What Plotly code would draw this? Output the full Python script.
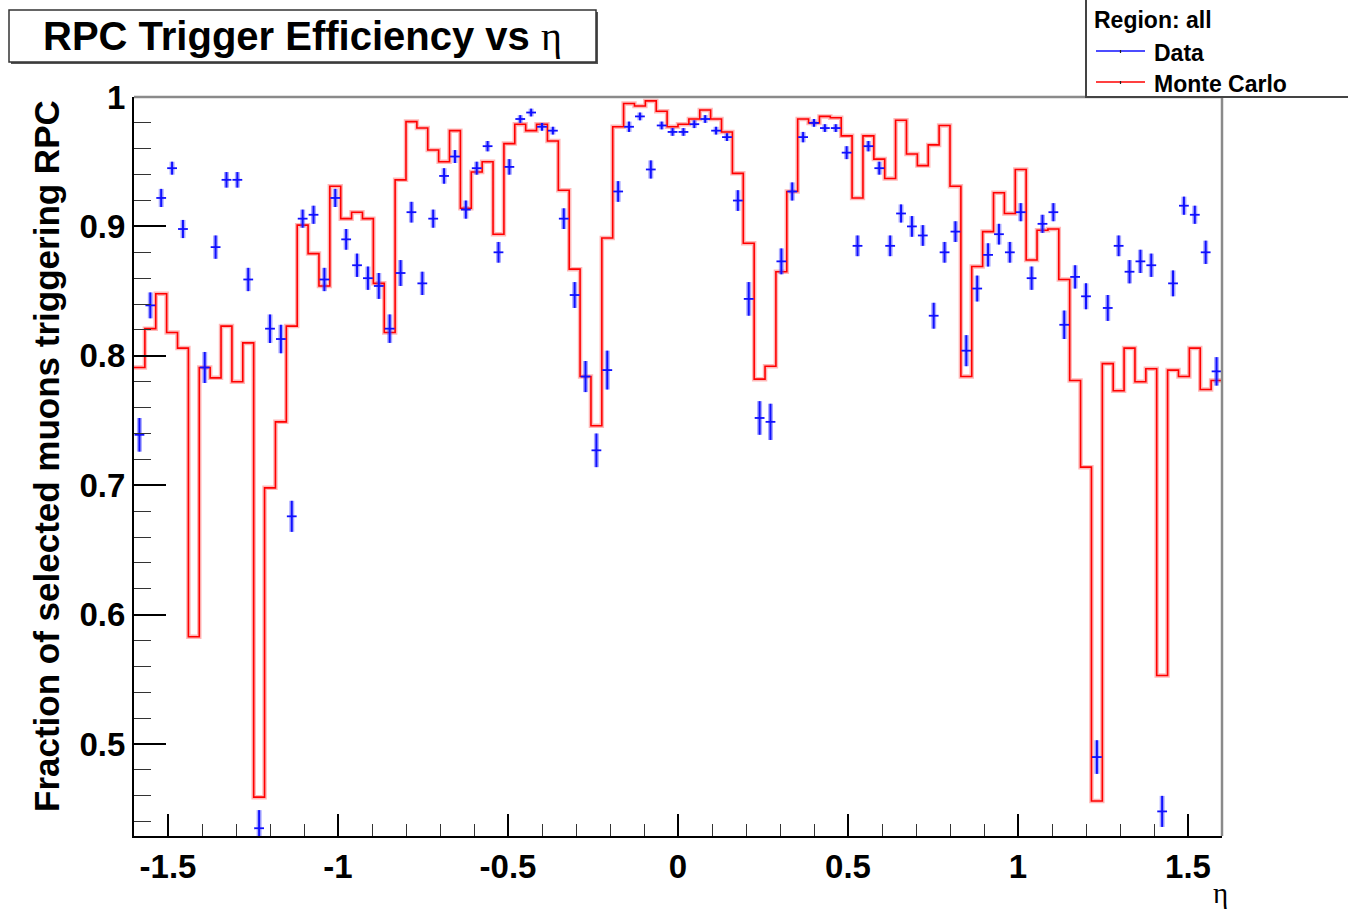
import numpy as np
import plotly.graph_objects as go

# ---------------- data ----------------
n_bins = 100
eta_min, eta_max = -1.6, 1.6

data_eff = [
    0.739, 0.839, 0.922, 0.945, 0.898, None, 0.791, 0.884, 0.936, 0.936,
    0.859, 0.435, 0.821, 0.813, 0.676, 0.906, 0.909, 0.859, 0.922, 0.890,
    0.870, 0.860, 0.854, 0.821, 0.864, 0.911, 0.856, 0.906, 0.939, 0.954,
    0.913, 0.945, 0.962, 0.880, 0.946, 0.983, 0.988, 0.977, 0.974, 0.906,
    0.847, 0.784, 0.727, 0.789, 0.927, 0.977, 0.985, 0.944, 0.978, 0.973,
    0.973, 0.979, 0.983, 0.974, 0.969, 0.920, 0.844, 0.752, 0.749, 0.873,
    0.927, 0.969, 0.980, 0.976, 0.976, 0.957, 0.885, 0.962, 0.945, 0.885,
    0.910, 0.900, 0.893, 0.831, 0.880, 0.896, 0.804, 0.852, 0.878, 0.894,
    0.880, 0.911, 0.860, 0.902, 0.911, 0.824, 0.861, 0.846, 0.490, 0.837,
    0.885, 0.865, 0.873, 0.870, 0.448, 0.856, 0.916, 0.909, 0.880, 0.788,
]

data_err = [
    0.013, 0.010, 0.007, 0.005, 0.007, None, 0.012, 0.009, 0.006, 0.006,
    0.009, 0.014, 0.011, 0.011, 0.012, 0.007, 0.007, 0.009, 0.007, 0.008,
    0.009, 0.009, 0.010, 0.011, 0.010, 0.008, 0.009, 0.007, 0.006, 0.005,
    0.007, 0.005, 0.004, 0.008, 0.006, 0.003, 0.003, 0.003, 0.003, 0.008,
    0.010, 0.012, 0.013, 0.015, 0.008, 0.004, 0.003, 0.007, 0.003, 0.003,
    0.003, 0.003, 0.003, 0.003, 0.003, 0.008, 0.013, 0.013, 0.014, 0.010,
    0.007, 0.004, 0.003, 0.003, 0.003, 0.005, 0.008, 0.004, 0.005, 0.008,
    0.007, 0.008, 0.008, 0.010, 0.008, 0.008, 0.012, 0.010, 0.009, 0.008,
    0.008, 0.007, 0.009, 0.007, 0.007, 0.011, 0.009, 0.010, 0.013, 0.010,
    0.008, 0.009, 0.009, 0.009, 0.012, 0.010, 0.007, 0.007, 0.009, 0.011,
]

mc_eff = [
    0.791, 0.821, 0.848, 0.818, 0.806, 0.583, 0.791, 0.783, 0.823, 0.780,
    0.810, 0.459, 0.698, 0.749, 0.823, 0.901, 0.879, 0.854, 0.931, 0.906,
    0.911, 0.906, 0.856, 0.818, 0.936, 0.981, 0.976, 0.959, 0.950, 0.974,
    0.914, 0.942, 0.950, 0.894, 0.964, 0.979, 0.974, 0.979, 0.966, 0.928,
    0.867, 0.784, 0.746, 0.891, 0.977, 0.995, 0.993, 0.997, 0.989, 0.977,
    0.979, 0.983, 0.990, 0.983, 0.973, 0.941, 0.887, 0.782, 0.792, 0.865,
    0.927, 0.983, 0.980, 0.985, 0.984, 0.970, 0.922, 0.970, 0.952, 0.937,
    0.982, 0.956, 0.947, 0.963, 0.978, 0.931, 0.784, 0.869, 0.896, 0.926,
    0.910, 0.944, 0.874, 0.897, 0.898, 0.859, 0.781, 0.714, 0.456, 0.794,
    0.773, 0.806, 0.780, 0.790, 0.553, 0.789, 0.784, 0.806, 0.774, 0.781,
]

x_tick_vals = [-1.5, -1.0, -0.5, 0.0, 0.5, 1.0, 1.5]
x_tick_text = ["-1.5", "-1", "-0.5", "0", "0.5", "1", "1.5"]
y_tick_vals = [0.5, 0.6, 0.7, 0.8, 0.9, 1.0]
y_tick_text = ["0.5", "0.6", "0.7", "0.8", "0.9", "1"]

title_text = "RPC Trigger Efficiency vs"
ytitle_text = "Fraction of selected muons triggering RPC"
legend_header = "Region: all"
legend_labels = ["Data", "Monte Carlo"]

# ---------------- geometry helpers ----------------
W, H = 1348, 911
ML, MR, MT, MB = 134, 126, 97, 75
PW, PH = W - ML - MR, H - MT - MB


def px(xp):
    return (xp - ML) / PW


def py(yp):
    return (H - MB - yp) / PH


edges = np.linspace(eta_min, eta_max, n_bins + 1)
centers = 0.5 * (edges[:-1] + edges[1:])
half_w = 0.5 * (edges[1] - edges[0])

BLUE = "#1010ff"
RED = "#ff0000"
FONT = "Liberation Sans"

fig = go.Figure()

# MC histogram (step), halo + core
mc_y = list(mc_eff) + [mc_eff[-1]]
fig.add_trace(go.Scatter(x=edges, y=mc_y, mode="lines", line_shape="hv",
                         line=dict(color="rgba(255,0,0,0.28)", width=4.5),
                         hoverinfo="skip"))
fig.add_trace(go.Scatter(x=edges, y=mc_y, mode="lines", line_shape="hv",
                         line=dict(color=RED, width=1.6), name="Monte Carlo"))

# Data points: halo for vertical error bars
fig.add_trace(go.Scatter(x=centers, y=data_eff, mode="markers",
                         marker=dict(size=1, color="rgba(0,0,0,0)"),
                         error_y=dict(type="data", array=data_err, color="rgba(70,70,255,0.45)",
                                      thickness=5, width=0),
                         hoverinfo="skip"))
fig.add_trace(go.Scatter(x=centers, y=data_eff, mode="markers",
                         marker=dict(size=2, color=BLUE),
                         error_y=dict(type="data", array=data_err, color=BLUE,
                                      thickness=2, width=0),
                         error_x=dict(type="constant", value=half_w * 0.9, color=BLUE,
                                      thickness=1.8, width=0),
                         name="Data"))

tickfont = dict(family=FONT, size=33, color="black", weight="bold")

fig.update_xaxes(range=[eta_min, eta_max], showgrid=False, zeroline=False,
                 showline=True, linecolor="black", linewidth=2, mirror=False,
                 ticks="inside", ticklen=22, tickwidth=1.5, tickcolor="black",
                 tickmode="array", tickvals=x_tick_vals, ticktext=x_tick_text,
                 tickfont=tickfont,
                 minor=dict(ticks="inside", ticklen=12, tickwidth=1.2, tickcolor="#333",
                            dtick=0.1, tick0=0, showgrid=False))
fig.update_yaxes(range=[0.429, 1.0], showgrid=False, zeroline=False,
                 showline=True, linecolor="black", linewidth=2, mirror=False,
                 ticks="inside", ticklen=32, tickwidth=1.5, tickcolor="black",
                 tickmode="array", tickvals=y_tick_vals, ticktext=y_tick_text,
                 tickfont=tickfont,
                 minor=dict(ticks="inside", ticklen=17, tickwidth=1.2, tickcolor="#333",
                            dtick=0.02, tick0=0, showgrid=False))

shapes = []
# frame top and right edges (grey)
shapes.append(dict(type="line", xref="paper", yref="paper", x0=0, x1=1, y0=1, y1=1,
                   line=dict(color="#8a8a8a", width=2.5)))
shapes.append(dict(type="line", xref="paper", yref="paper", x0=1, x1=1, y0=0, y1=1,
                   line=dict(color="#8a8a8a", width=2.5)))
# title box with shadow
shapes.append(dict(type="rect", xref="paper", yref="paper",
                   x0=px(11), x1=px(598), y0=py(64), y1=py(12),
                   line=dict(width=0), fillcolor="#555555"))
shapes.append(dict(type="rect", xref="paper", yref="paper",
                   x0=px(9), x1=px(596), y0=py(62), y1=py(10),
                   line=dict(color="#333333", width=1.5), fillcolor="white"))
# legend box
shapes.append(dict(type="rect", xref="paper", yref="paper",
                   x0=px(1086), x1=px(1365), y0=py(97), y1=py(-10),
                   line=dict(color="#444444", width=2), fillcolor="white"))
# legend lines
shapes.append(dict(type="line", xref="paper", yref="paper", x0=px(1096), x1=px(1145),
                   y0=py(51), y1=py(51), line=dict(color=BLUE, width=1.6)))
shapes.append(dict(type="line", xref="paper", yref="paper", x0=px(1096), x1=px(1145),
                   y0=py(82), y1=py(82), line=dict(color=RED, width=1.6)))
shapes.append(dict(type="line", xref="paper", yref="paper", x0=px(1120.5), x1=px(1120.5),
                   y0=py(50), y1=py(53), line=dict(color="#222", width=1.2)))
shapes.append(dict(type="line", xref="paper", yref="paper", x0=px(1120.5), x1=px(1120.5),
                   y0=py(81), y1=py(84), line=dict(color="#222", width=1.2)))

annotations = []
annotations.append(dict(xref="paper", yref="paper", x=px(302), y=py(36),
                        xanchor="center", yanchor="middle", showarrow=False,
                        text="<b>" + title_text + "</b> <span style='font-family:Liberation Serif'>η</span>",
                        font=dict(family=FONT, size=40, color="black")))
annotations.append(dict(xref="paper", yref="paper", x=px(46), y=py(456),
                        xanchor="center", yanchor="middle", showarrow=False, textangle=-90,
                        text="<b>" + ytitle_text + "</b>",
                        font=dict(family=FONT, size=35, color="black")))
annotations.append(dict(xref="paper", yref="paper", x=px(1220), y=py(893),
                        xanchor="center", yanchor="middle", showarrow=False,
                        text="η", font=dict(family="Liberation Serif", size=29, color="black")))
annotations.append(dict(xref="paper", yref="paper", x=px(1092), y=py(20),
                        xanchor="left", yanchor="middle", showarrow=False,
                        text="<b>" + legend_header + "</b>",
                        font=dict(family=FONT, size=23, color="black")))
annotations.append(dict(xref="paper", yref="paper", x=px(1152), y=py(53),
                        xanchor="left", yanchor="middle", showarrow=False,
                        text="<b>" + legend_labels[0] + "</b>",
                        font=dict(family=FONT, size=23, color="black")))
annotations.append(dict(xref="paper", yref="paper", x=px(1152), y=py(84),
                        xanchor="left", yanchor="middle", showarrow=False,
                        text="<b>" + legend_labels[1] + "</b>",
                        font=dict(family=FONT, size=23, color="black")))

fig.update_layout(width=W, height=H, margin=dict(l=ML, r=MR, t=MT, b=MB, pad=0),
                  plot_bgcolor="white", paper_bgcolor="white", showlegend=False,
                  font=dict(family=FONT, color="black"),
                  shapes=shapes, annotations=annotations)

fig.write_html("out.html")
